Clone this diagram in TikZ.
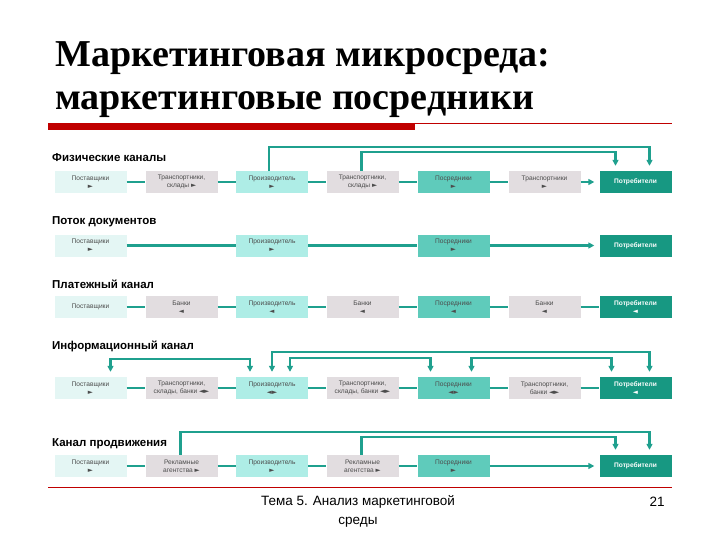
\documentclass[tikz,border=0pt]{standalone}
\usepackage{fontspec}
\setmainfont{Liberation Serif}
\setsansfont{Liberation Sans}
\newfontfamily\symfont{DejaVu Sans}
\usetikzlibrary{arrows.meta}
\definecolor{mkTeal}{HTML}{1FA08E}
\definecolor{mkSup}{HTML}{E4F6F4}
\definecolor{mkTr}{HTML}{E2DDE0}
\definecolor{mkProd}{HTML}{AEEDE6}
\definecolor{mkInt}{HTML}{5FCBBB}
\definecolor{mkCon}{HTML}{179882}
\definecolor{mkRed}{HTML}{C00000}
\newcommand{\rtri}{{\symfont\char"25BA}}
\newcommand{\ltri}{{\symfont\char"25C4}}
\newcommand{\btri}{\ltri\rtri}
\tikzset{
  mkbox/.style={minimum width=72pt, minimum height=22pt, inner sep=1pt, align=center,
                font=\sffamily\fontsize{6.6}{8}\selectfont, text=black!70},
  mksup/.style={mkbox, fill=mkSup},
  mktr/.style={mkbox, fill=mkTr},
  mkprod/.style={mkbox, fill=mkProd},
  mkint/.style={mkbox, fill=mkInt},
  mkcon/.style={mkbox, fill=mkCon, text=white, font=\sffamily\bfseries\fontsize{6.6}{8}\selectfont},
  mkhead/.style={anchor=west, inner sep=0pt, font=\sffamily\bfseries\fontsize{11.5}{13}\selectfont},
  mktitle/.style={anchor=base west, inner sep=0pt, font=\bfseries\fontsize{38}{40}\selectfont},
  mkfoot/.style={align=center, inner sep=0pt, font=\sffamily\fontsize{13.5}{19}\selectfont},
  mkline/.style={draw=mkTeal, line width=2.5pt},
  mkarr/.style={mkline, -{Triangle[length=6pt,width=6pt]}, shorten >=5pt},
  mkboth/.style={mkline, {Triangle[length=6pt,width=6pt]}-{Triangle[length=6pt,width=6pt]},
                 shorten >=5pt, shorten <=5pt},
}
\begin{document}
\begin{tikzpicture}[x=1pt, y=-1pt]
\useasboundingbox (0,0) rectangle (720,540);
\fill[white] (0,0) rectangle (720,540);

\node[mktitle] (title1) at (55,67) {Маркетинговая микросреда:};
\node[mktitle, text height=19pt] (title2) at (55,110) {маркетинговые посредники};
\fill[mkRed] (48,123) rectangle (415,130);
\draw[mkRed, line width=1pt] (415,123.5) -- (672,123.5);

\node[mkhead] (hphys) at (52,158) {Физические каналы};
\node[mksup] (fsup) at (90.5,182) {Поставщики\\\rtri};
\node[mktr] (ftr) at (181.5,182) {Транспортники,\\склады \rtri};
\node[mkprod] (fprod) at (272,182) {Производитель\\\rtri};
\node[mktr] (ftr2) at (362.5,182) {Транспортники,\\склады \rtri};
\node[mkint] (fint) at (453.5,182) {Посредники\\\rtri};
\node[mktr] (ftr3) at (544.5,182) {Транспортники\\\rtri};
\node[mkcon] (fcon) at (635.5,182) {Потребители};
\draw[mkline] (fsup) -- (ftr) -- (fprod) -- (ftr2) -- (fint) -- (ftr3);
\draw[mkarr] (ftr3) -- (fcon);
\draw[mkarr] ([xshift=-3pt]fprod.north) -- ++(0,-24) -| ([xshift=14pt]fcon.north);
\draw[mkarr] ([xshift=-1pt]ftr2.north) -- ++(0,-19) -| ([xshift=-20pt]fcon.north);

\node[mkhead] (hdoc) at (52,222) {Поток документов};
\node[mksup] (dsup) at (90.5,245.5) {Поставщики\\\rtri};
\node[mkprod] (dprod) at (272,245.5) {Производитель\\\rtri};
\node[mkint] (dint) at (453.5,245.5) {Посредники\\\rtri};
\node[mkcon] (dcon) at (635.5,245.5) {Потребители};
\draw[mkline] (dsup) -- (dprod) -- (dint);
\draw[mkarr] (dint) -- (dcon);

\node[mkhead] (hpay) at (52,284) {Платежный канал};
\node[mksup] (psup) at (90.5,307) {Поставщики};
\node[mktr] (pbank) at (181.5,307) {Банки\\\ltri};
\node[mkprod] (pprod) at (272,307) {Производитель\\\ltri};
\node[mktr] (pbank2) at (362.5,307) {Банки\\\ltri};
\node[mkint] (pint) at (453.5,307) {Посредники\\\ltri};
\node[mktr] (pbank3) at (544.5,307) {Банки\\\ltri};
\node[mkcon] (pcon) at (635.5,307) {Потребители\\\ltri};
\draw[mkline] (psup) -- (pbank) -- (pprod) -- (pbank2) -- (pint) -- (pbank3) -- (pcon);

\node[mkhead] (hinfo) at (52,346) {Информационный канал};
\node[mksup] (isup) at (90.5,388) {Поставщики\\\rtri};
\node[mktr] (itr) at (181.5,388) {Транспортники,\\склады, банки \btri};
\node[mkprod] (iprod) at (272,388) {Производитель\\\btri};
\node[mktr] (itr2) at (362.5,388) {Транспортники,\\склады, банки \btri};
\node[mkint] (iint) at (453.5,388) {Посредники\\\btri};
\node[mktr] (itr3) at (544.5,388) {Транспортники,\\банки \btri};
\node[mkcon] (icon) at (635.5,388) {Потребители\\\ltri};
\draw[mkline] (isup) -- (itr) -- (iprod) -- (itr2) -- (iint) -- (itr3) -- (icon);
\draw[mkboth] ([xshift=-22pt]iprod.north) -- ++(0,-18) -| ([xshift=20pt]isup.north);
\draw[mkboth] (iprod.north) -- ++(0,-25) -| ([xshift=14pt]icon.north);
\draw[mkboth] ([xshift=18pt]iprod.north) -- ++(0,-19) -| ([xshift=-23pt]iint.north);
\draw[mkboth] ([xshift=18pt]iint.north) -- ++(0,-19) -| ([xshift=-24pt]icon.north);

\node[mkhead] (hpromo) at (52,444) {Канал продвижения};
\node[mksup] (rsup) at (90.5,466) {Поставщики\\\rtri};
\node[mktr] (rag) at (181.5,466) {Рекламные\\агентства \rtri};
\node[mkprod] (rprod) at (272,466) {Производитель\\\rtri};
\node[mktr] (rag2) at (362.5,466) {Рекламные\\агентства \rtri};
\node[mkint] (rint) at (453.5,466) {Посредники\\\rtri};
\node[mkcon] (rcon) at (635.5,466) {Потребители};
\draw[mkline] (rsup) -- (rag) -- (rprod) -- (rag2) -- (rint);
\draw[mkarr] (rint) -- (rcon);
\draw[mkarr] ([xshift=-1pt]rag.north) -- ++(0,-23) -| ([xshift=14pt]rcon.north);
\draw[mkarr] ([xshift=-1pt]rag2.north) -- ++(0,-18) -| ([xshift=-20pt]rcon.north);

\draw[mkRed, line width=1pt] (48,487) -- (672,487);
\node[mkfoot] (foot) at (358,511) {Тема 5. Анализ маркетинговой\\среды};
\node[mkfoot] (page) at (657,502) {21};
\end{tikzpicture}
\end{document}
